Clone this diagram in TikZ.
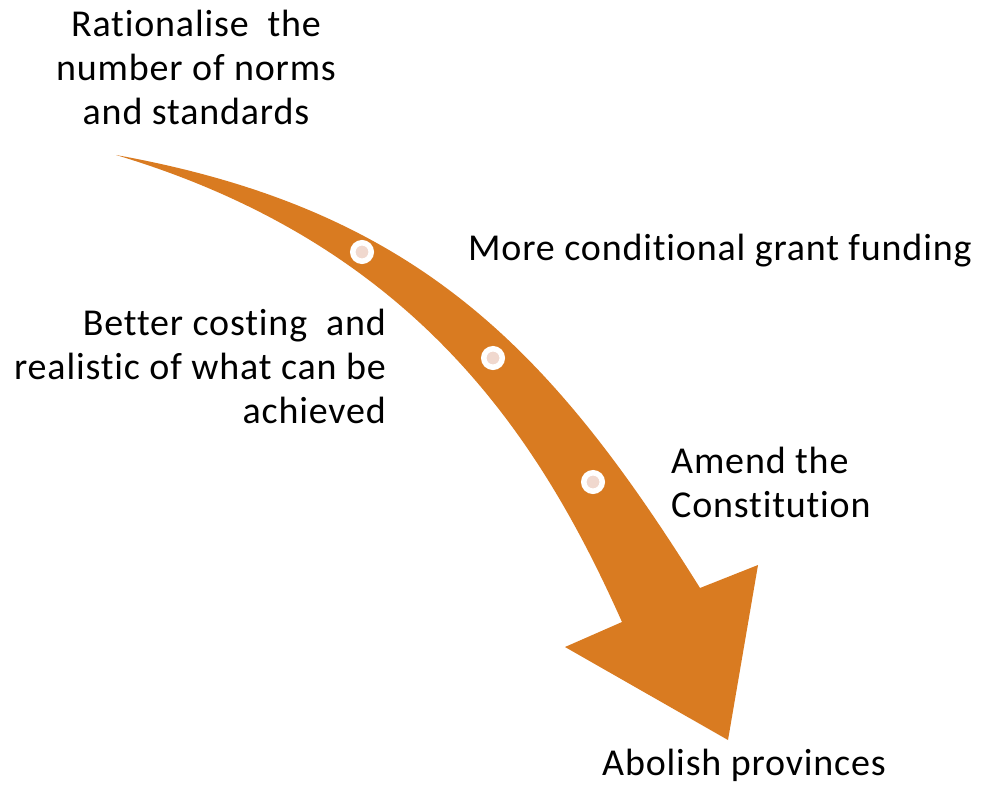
\documentclass[tikz,border=0pt]{standalone}
\usepackage{fontspec}
\setmainfont[Ligatures={NoCommon}, LetterSpace=2.2]{Carlito}
\definecolor{arroworange}{HTML}{D97B21}
\definecolor{dotpink}{HTML}{F0D8CE}
\begin{document}
\begin{tikzpicture}[x=1pt,y=-1pt,
  lbl/.style={inner sep=0pt, font=\fontsize{38}{44}\selectfont, text=black},
  stepdot/.style={circle, fill=dotpink, draw=white, line width=5.5pt, minimum size=18.5pt, inner sep=0pt}]
  \useasboundingbox (0,0) rectangle (981,786);

  % curved arrow: tapered shaft with a broad head
  \fill[arroworange]
    (116,155) .. controls (416,209) and (550,348) .. (700,588)
    -- (758,565) -- (728,740) -- (565,647) -- (622,622)
    .. controls (540,438) and (416,245) .. (116,155)
    -- cycle;

  % milestone dots on the shaft
  \node[stepdot] (d1) at (362,252) {};
  \node[stepdot] (d2) at (493,358) {};
  \node[stepdot] (d3) at (593,482) {};

  % labels
  \node[lbl, align=center] (t1) at (196,67) {Rationalise\ \ the\\number of norms\\and standards};
  \node[lbl, anchor=west] (t2) at (468,251) {More conditional grant funding};
  \node[lbl, align=right, anchor=east] (t3) at (386,366) {Better costing\ \ and\\realistic of what can be\\achieved};
  \node[lbl, align=left, anchor=west] (t4) at (671,482) {Amend the\\Constitution};
  \node[lbl, anchor=west] (t5) at (602,765) {Abolish provinces};
\end{tikzpicture}
\end{document}
